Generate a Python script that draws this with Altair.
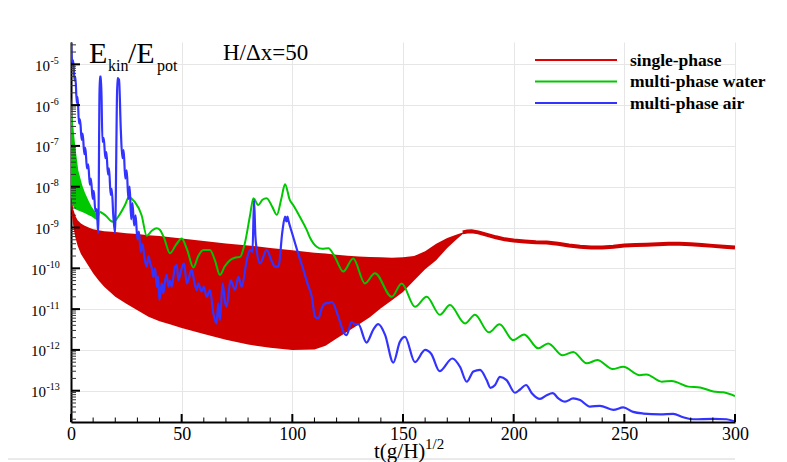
import math
import altair as alt
import pandas as pd

SERIF = "Liberation Serif, Times New Roman, serif"
W, H = 664, 380
LOG_MIN, LOG_MAX = -13.767, -4.453
RED, GREEN, BLUE = "#cf0000", "#00c800", "#3333ff"
GRID = "#e6e6e6"

# ---------------- data (log10 of E_kin/E_pot) ----------------
red_band_t = [0, 0.5, 1, 2, 3, 4.5, 6, 8, 10, 12.5, 15, 20, 25, 30, 35, 40, 45, 50, 60, 70,
              80, 90, 100, 110, 115, 120, 125, 130, 135, 140, 145, 150, 155, 160, 165, 170,
              174, 177, 179]
red_band_hi_log = [-8.30, -8.40, -8.55, -8.72, -8.82, -8.90, -8.95, -9.00, -9.04, -9.07, -9.09,
                   -9.11, -9.14, -9.16, -9.19, -9.21, -9.24, -9.27, -9.33, -9.39, -9.44, -9.50,
                   -9.56, -9.62, -9.64, -9.67, -9.69, -9.71, -9.72, -9.73, -9.74, -9.73, -9.70,
                   -9.58, -9.40, -9.26, -9.18, -9.12, -9.10]
red_band_lo_log = [-8.45, -8.74, -8.95, -9.25, -9.45, -9.65, -9.78, -9.95, -10.12, -10.30, -10.45,
                   -10.70, -10.87, -11.03, -11.19, -11.30, -11.38, -11.46, -11.61, -11.75, -11.87,
                   -11.95, -12.00, -11.99, -11.90, -11.72, -11.55, -11.38, -11.20, -10.98, -10.78,
                   -10.58, -10.30, -10.02, -9.80, -9.50, -9.30, -9.16, -9.10]

red_line_t = [177, 179, 181, 184, 188, 192, 196, 200, 205, 210, 215, 220, 225, 230, 235, 240,
              245, 250, 255, 260, 270, 275, 280, 285, 290, 295, 300]
red_line_log = [-9.12, -9.10, -9.09, -9.12, -9.18, -9.24, -9.29, -9.32, -9.34, -9.36, -9.37,
                -9.40, -9.44, -9.47, -9.49, -9.49, -9.47, -9.44, -9.43, -9.42, -9.40, -9.40,
                -9.41, -9.43, -9.45, -9.47, -9.49]

green_band_t = [0, 0.5, 1, 2, 3.3, 5, 6.3, 8, 9.3, 11, 12.3, 13.1]
green_band_hi_log = [-5.8, -6.2, -6.5, -7.05, -7.6, -7.95, -8.15, -8.35, -8.49, -8.62, -8.70, -8.61]
green_band_lo_log = [-8.25, -8.40, -8.48, -8.55, -8.58, -8.62, -8.65, -8.70, -8.73, -8.80, -8.84, -8.61]

green_t = [13.1, 14.5, 16.1, 17.6, 19.1, 21.4, 24.4, 26.2, 27.5, 28.9, 31.9, 34.2, 36.5, 38.7,
           40.2, 42.0, 44.7, 47.5, 50.0, 52.5, 55.3, 57.5, 59.8, 62.8, 65.0, 67.3, 69.5, 71.8,
           74.0, 76.4, 78.5, 80.9, 82.4, 84.6, 86.5, 88.4, 91.0, 93.0, 95.0, 96.7, 98.9, 100.4,
           103.0, 106.5, 108.0, 111.0, 113.5, 116.3, 119.0, 123.0, 127.5, 132.8, 137.3, 144.9,
           149.4, 155.4, 160.7, 166.7, 171.2, 178.0, 182.5, 188.8, 193.6, 199.8, 204.7, 211.1,
           215.6, 222.1, 226.9, 233.0, 237.8, 244.7, 249.5, 257.0, 260.0, 266.9, 271.4, 278.9,
           284.2, 290.2, 294.7, 300.0]
green_log = [-8.61, -8.66, -8.73, -8.82, -8.86, -8.73, -8.45, -8.25, -8.30, -8.38, -8.70, -9.20,
             -9.08, -9.02, -9.06, -9.25, -9.63, -9.42, -9.27, -9.55, -9.98, -9.70, -9.55, -9.55,
             -9.80, -10.16, -9.95, -9.80, -9.74, -9.72, -9.40, -8.70, -8.28, -8.45, -8.32, -8.28,
             -8.50, -8.69, -8.30, -7.94, -8.33, -8.45, -8.70, -9.06, -9.25, -9.47, -9.52, -9.51,
             -9.70, -10.08, -9.76, -10.37, -10.12, -10.70, -10.37, -10.94, -10.70, -11.14, -10.90,
             -11.35, -11.14, -11.57, -11.37, -11.76, -11.62, -11.96, -11.84, -12.13, -12.05,
             -12.33, -12.25, -12.47, -12.41, -12.62, -12.60, -12.78, -12.76, -12.90, -12.92,
             -13.02, -13.04, -13.13]

blue_t = [0, 0.6, 1.0, 1.6, 2.0, 2.6, 3.0, 3.6, 4.1, 4.8,
          5.3, 6.0, 6.5, 7.2, 7.8, 8.5, 9.0, 9.8, 10.3, 11.0,
          11.6, 12.3, 13.0, 13.6, 14.2, 14.8, 15.5, 16.0, 16.7, 17.2,
          17.9, 18.4, 19.1, 19.9, 21.0, 21.7, 22.5, 23.2, 23.8, 24.5,
          25.2, 25.9, 26.5, 27.2, 27.8, 28.5, 29.2, 30.0, 30.7, 31.5,
          32.3, 33.2, 34.2, 35.0, 35.7, 36.5, 37.2, 38.0, 38.7, 39.3,
          39.9, 41.0, 41.7, 42.5, 43.2, 44.0, 44.7, 45.5, 47.0, 47.8,
          48.5, 50.0, 51.1, 52.3, 53.0, 54.5, 56.0, 56.8, 57.5, 59.0,
          60.0, 61.3, 62.8, 64.3, 65.8, 66.5, 67.3, 68.5, 69.5, 70.3,
          72.1, 74.1, 75.6, 77.1, 79.4, 80.9, 82.0, 82.7, 83.3, 83.9,
          85.4, 88.4, 90.5, 92.2, 93.7, 95.5, 96.7, 97.3, 97.8, 98.2,
          100.4, 103.0, 105.0, 107.0, 108.8, 110.2, 111.7, 113.5, 114.8, 116.5,
          117.8, 120.8, 123.5, 124.5, 126.8, 128.3, 129.8, 133.5, 136.6, 138.8,
          141.9, 145.6, 148.6, 150.9, 155.4, 160.0, 162.8, 166.5, 172.3, 175.8,
          178.8, 181.8, 184.8, 187.8, 189.5, 191.6, 193.8, 196.8, 200.6, 202.9,
          205.6, 208.2, 211.9, 214.9, 217.6, 220.2, 223.2, 226.9, 230.0, 234.5,
          239.0, 245.0, 249.5, 254.0, 258.6, 266.1, 272.1, 276.6, 281.2, 290.2,
          296.2, 300.0]
blue_log = [-4.46, -5.0, -4.9, -5.4, -5.3, -5.95, -5.8, -6.45, -6.35, -6.85,
            -6.7, -7.2, -7.05, -7.55, -7.45, -7.95, -7.8, -8.3, -8.1, -8.6,
            -8.55, -9.14, -5.30, -5.30, -6.9, -6.8, -7.3, -7.15, -7.7, -7.55,
            -8.2, -8.05, -8.7, -9.14, -5.34, -5.38, -6.6, -7.3, -7.1, -7.8,
            -7.6, -8.3, -8.0, -8.8, -8.4, -8.95, -8.7, -9.3, -9.1, -9.6,
            -9.4, -9.75, -9.96, -9.7, -9.85, -10.0, -10.21, -10.0, -10.45, -10.2,
            -10.78, -10.37, -10.61, -10.3, -10.16, -10.45, -10.3, -10.45, -9.96, -9.92,
            -10.29, -10.0, -9.88, -10.37, -10.29, -10.04, -10.41, -10.53, -10.37, -10.57,
            -10.45, -10.70, -10.53, -11.10, -11.35, -10.86, -11.27, -10.37, -10.80, -10.94,
            -10.29, -10.53, -10.21, -10.45, -9.80, -9.55, -9.60, -8.33, -9.20, -9.55,
            -9.88, -9.55, -9.80, -9.96, -9.96, -9.10, -8.73, -8.85, -8.73, -8.82,
            -9.23, -9.70, -10.04, -10.40, -10.70, -11.18, -11.23, -10.95, -10.86, -10.85,
            -10.82, -11.19, -11.60, -11.64, -11.31, -11.37, -11.37, -11.82, -11.50, -11.37,
            -11.63, -12.31, -11.80, -11.68, -12.30, -12.00, -12.10, -12.52, -12.21, -12.42,
            -12.78, -12.53, -12.49, -12.74, -12.93, -12.86, -12.66, -12.74, -13.05, -12.97,
            -12.86, -13.06, -13.20, -13.11, -13.06, -13.19, -13.27, -13.19, -13.23, -13.39,
            -13.37, -13.47, -13.41, -13.52, -13.56, -13.58, -13.57, -13.65, -13.70, -13.69,
            -13.70, -13.76]

x_major = [0, 50, 100, 150, 200, 250, 300]
x_minor = [10, 20, 30, 40, 60, 70, 80, 90, 110, 120, 130, 140, 160, 170, 180, 190,
           210, 220, 230, 240, 260, 270, 280, 290]
y_major_exp = [-13, -12, -11, -10, -9, -8, -7, -6, -5]
y_minor_mult = [2, 3, 4, 5, 6, 7, 8, 9]

legend_names = ["single-phase", "multi-phase water", "multi-phase air"]
legend_colors = ["#e00000", GREEN, BLUE]


def lin(a):
    return [10.0 ** v for v in a]


df_red_band = pd.DataFrame({"t": red_band_t, "hi": lin(red_band_hi_log), "lo": lin(red_band_lo_log)})
df_red_line = pd.DataFrame({"t": red_line_t, "v": lin(red_line_log)})
df_green_band = pd.DataFrame({"t": green_band_t, "hi": lin(green_band_hi_log), "lo": lin(green_band_lo_log)})
df_green = pd.DataFrame({"t": green_t, "v": lin(green_log)})
df_blue = pd.DataFrame({"t": blue_t, "v": lin(blue_log)})

y_minor_vals = [m * 10.0 ** k for k in range(-14, -4) for m in y_minor_mult
                if LOG_MIN <= k + math.log10(m) <= LOG_MAX]

xs = alt.Scale(domain=[0, 300], nice=False, zero=False)
ys = alt.Scale(type="log", domain=[10 ** LOG_MIN, 10 ** LOG_MAX], nice=False)

x_axis = alt.Axis(values=x_major, grid=True, gridColor=GRID, gridWidth=1,
                  domainColor="black", domainWidth=2, ticks=False, tickSize=0,
                  labelFont=SERIF, labelFontSize=18, labelColor="black",
                  labelPadding=17, labelBaseline="alphabetic", labelFlush=False,
                  labelOverlap=False, title=None)
y_axis = alt.Axis(values=lin(y_major_exp), grid=True, gridColor=GRID, gridWidth=1,
                  domainColor="black", domainWidth=2, ticks=False, tickSize=0,
                  labels=False, title=None)


def X(f="t"):
    return alt.X(f"{f}:Q", scale=xs, axis=x_axis)


def Y(f="v"):
    return alt.Y(f"{f}:Q", scale=ys, axis=y_axis)


red_area = alt.Chart(df_red_band).mark_area(color=RED, opacity=1, clip=True).encode(
    x=X(), y=Y("hi"), y2="lo:Q")
red_line = alt.Chart(df_red_line).mark_line(color=RED, strokeWidth=4, clip=True).encode(x=X(), y=Y())
green_area = alt.Chart(df_green_band).mark_area(color=GREEN, opacity=1, clip=True).encode(
    x=X(), y=Y("hi"), y2="lo:Q")
green_line = alt.Chart(df_green).mark_line(color=GREEN, strokeWidth=2, clip=True,
                                           interpolate="monotone").encode(x=X(), y=Y())
blue_line = alt.Chart(df_blue).mark_line(color=BLUE, strokeWidth=2.2, clip=True,
                                         interpolate="monotone").encode(x=X(), y=Y())

# inward tick marks
xmaj = alt.Chart(pd.DataFrame({"t": x_major})).mark_rule(color="black", strokeWidth=2).encode(
    x=X(), y=alt.value(H), y2=alt.value(H - 8))
xmin = alt.Chart(pd.DataFrame({"t": x_minor})).mark_rule(color="black", strokeWidth=1).encode(
    x=X(), y=alt.value(H), y2=alt.value(H - 4.5))
ymaj = alt.Chart(pd.DataFrame({"v": lin(y_major_exp)})).mark_rule(color="black", strokeWidth=2).encode(
    y=Y(), x=alt.value(0), x2=alt.value(9))
ymin = alt.Chart(pd.DataFrame({"v": y_minor_vals})).mark_rule(color="#333333", strokeWidth=1).encode(
    y=Y(), x=alt.value(0), x2=alt.value(5))

# y tick labels 10^n
lab_df = pd.DataFrame({"v": lin(y_major_exp), "base": ["10"] * len(y_major_exp),
                       "ex": [str(e) for e in y_major_exp],
                       "two": [abs(e) >= 10 for e in y_major_exp]})
ylabel_layers = []
for two, xpos in [(False, -21), (True, -25)]:
    sub = lab_df[lab_df["two"] == two]
    ylabel_layers.append(alt.Chart(sub).mark_text(font=SERIF, fontSize=15, align="right",
                                                  baseline="middle", dy=1.5, color="black").encode(
        y=Y(), x=alt.value(xpos), text="base:N"))
    ylabel_layers.append(alt.Chart(sub).mark_text(font=SERIF, fontSize=10, align="left",
                                                  baseline="middle", dy=-3.5, color="black").encode(
        y=Y(), x=alt.value(xpos + 0.5), text="ex:N"))

one = pd.DataFrame({"a": [0]})


def txt(s, x, y, size, weight="normal", align="left", baseline="alphabetic"):
    return alt.Chart(one).mark_text(text=s, font=SERIF, fontSize=size, fontWeight=weight,
                                    align=align, baseline=baseline, color="black").encode(
        x=alt.value(x), y=alt.value(y))


annotations = [
    txt("E", 18, 21, 30), txt("kin", 37, 28.5, 16), txt("/E", 57, 21, 30), txt("pot", 86, 28.5, 16),
    txt("H/Δx=50", 152, 18, 23),
    txt("t(g/H)", 303, 416, 21), txt("1/2", 354, 407, 15),
]

frame_line = alt.Chart(one).mark_rule(color="#d4d4d4", strokeWidth=1).encode(
    x=alt.value(-63), x2=alt.value(W), y=alt.value(417))

legend_layers = []
for i, (name, col) in enumerate(zip(legend_names, legend_colors)):
    yy = 18 + 21.5 * i
    legend_layers.append(alt.Chart(one).mark_rule(color=col, strokeWidth=2).encode(
        x=alt.value(464), x2=alt.value(546), y=alt.value(yy)))
    legend_layers.append(txt(name, 559, yy + 0.5, 17.5, weight="bold", baseline="middle"))

chart = alt.layer(
    red_area, red_line, green_area, green_line, blue_line,
    xmaj, xmin, ymaj, ymin, *ylabel_layers, frame_line, *annotations, *legend_layers
).properties(
    width=W, height=H,
    padding={"left": 63, "top": 34, "right": 40, "bottom": 40},
    autosize=alt.AutoSizeParams(type="none"),
    background="white",
).configure_view(stroke=None)

chart.save("out.html", embed_options={"renderer": "svg", "actions": False})
